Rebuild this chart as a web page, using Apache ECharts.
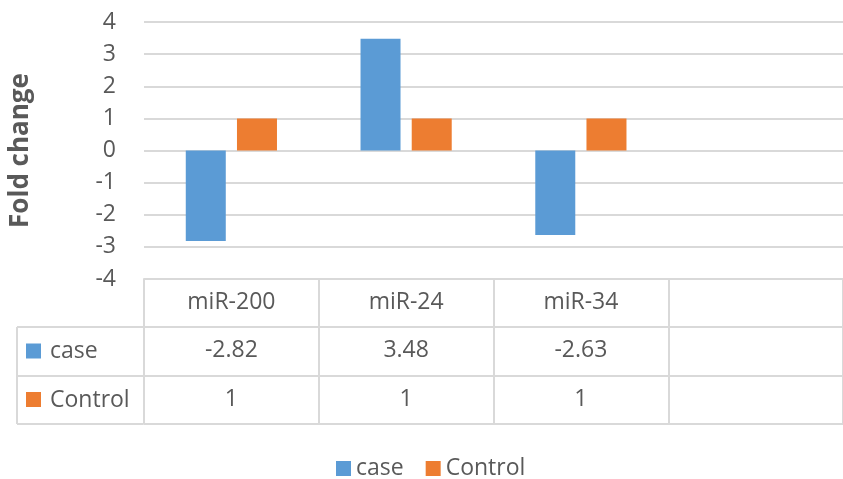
<!DOCTYPE html>
<html>
<head>
<meta charset="utf-8">
<script src="https://cdn.jsdelivr.net/npm/echarts@6/dist/echarts.min.js"></script>
<style>
html,body{margin:0;padding:0;background:#fff;}
#c{width:843px;height:479px;}
</style>
</head>
<body>
<div id="c"></div>
<script>
const categories = ['miR-200', 'miR-24', 'miR-34', ''];
const caseValues = [-2.82, 3.48, -2.63];
const controlValues = [1, 1, 1];
const seriesNames = ['case', 'Control'];
const yTicks = { min: -4, max: 4, interval: 1 };

const FONT = '"Open Sans", sans-serif';
const FS = 23;
const TXT = '#595959';
const GRID = '#D9D9D9';
const BLUE = '#5B9BD5';
const ORANGE = '#ED7D31';

const caseRow = categories.map((c, i) => i < caseValues.length ? String(caseValues[i]) : '');
const controlRow = categories.map((c, i) => i < controlValues.length ? String(controlValues[i]) : '');

const chart = echarts.init(document.getElementById('c'));

function rowAxis(data, offset, showLabel) {
  return {
    type: 'category', data: data, position: 'bottom', offset: offset, gridIndex: 0,
    axisLine: { show: true, onZero: false, lineStyle: { color: GRID, width: 2 } },
    axisTick: { show: false },
    axisLabel: { show: showLabel, interval: 0, color: TXT, fontFamily: FONT, fontSize: FS, margin: 12 },
    splitLine: { show: false }
  };
}

const option = {
  animation: false,
  backgroundColor: '#fff',
  grid: { left: 143, width: 712, top: 22, bottom: 200, containLabel: false },
  legend: {
    data: seriesNames, top: 452, left: 331, icon: 'rect', itemWidth: 15, itemHeight: 15, itemGap: 22,
    textStyle: { color: TXT, fontFamily: FONT, fontSize: FS }
  },
  xAxis: [
    {
      type: 'category', data: categories, position: 'bottom', gridIndex: 0,
      axisLine: { show: true, onZero: false, lineStyle: { color: GRID, width: 2 } },
      axisTick: { show: true, alignWithLabel: false, interval: 0, inside: false, length: 145, lineStyle: { color: GRID, width: 2 } },
      axisLabel: { show: true, interval: 0, color: TXT, fontFamily: FONT, fontSize: FS, margin: 12 },
      splitLine: { show: false }
    },
    rowAxis(caseRow, 48, true),
    rowAxis(controlRow, 97, true),
    rowAxis(categories.map(() => ''), 145, false)
  ],
  yAxis: {
    type: 'value', min: yTicks.min, max: yTicks.max, interval: yTicks.interval,
    name: 'Fold change', nameLocation: 'middle', nameRotate: 90, nameGap: 110,
    nameTextStyle: { color: TXT, fontFamily: FONT, fontSize: 26, fontWeight: 'bold' },
    axisLine: { show: false }, axisTick: { show: false },
    axisLabel: { color: TXT, fontFamily: FONT, fontSize: FS, margin: 28 },
    splitLine: { show: true, lineStyle: { color: GRID, width: 2 } }
  },
  series: [
    { name: seriesNames[0], type: 'bar', data: caseValues, barWidth: 40, barGap: '28%', itemStyle: { color: BLUE } },
    { name: seriesNames[1], type: 'bar', data: controlValues, barWidth: 40, barGap: '28%', itemStyle: { color: ORANGE } }
  ]
};
chart.setOption(option);

// Row header cells of the data table (left of the plot)
const y0 = chart.convertToPixel({ yAxisIndex: 0 }, yTicks.min);
const rowH = [48, 97, 145].map(o => y0 + o);
const leftX = 17;
const plotLeft = 143;
const lineStyle = { stroke: GRID, lineWidth: 2 };
const g = [];
rowH.forEach(y => g.push({ type: 'line', shape: { x1: leftX, y1: y, x2: plotLeft, y2: y }, style: lineStyle }));
g.push({ type: 'line', shape: { x1: leftX, y1: rowH[0], x2: leftX, y2: rowH[2] }, style: lineStyle });
const colors = [BLUE, ORANGE];
seriesNames.forEach((n, i) => {
  const cy = (rowH[i] + rowH[i + 1]) / 2;
  g.push({ type: 'rect', shape: { x: 26, y: cy - 8, width: 15, height: 15 }, style: { fill: colors[i] } });
  g.push({ type: 'text', x: 50, y: cy, style: { text: n, fill: TXT, font: FS + 'px "Open Sans", sans-serif', textVerticalAlign: 'middle' } });
});
chart.setOption({ graphic: g });
</script>
</body>
</html>
